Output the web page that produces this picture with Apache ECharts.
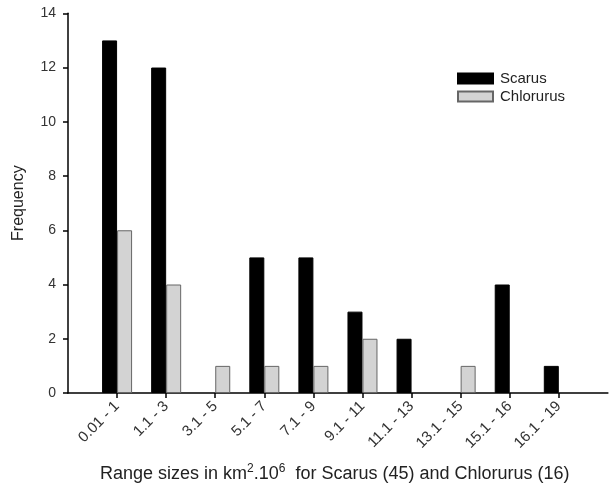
<!DOCTYPE html>
<html>
<head>
<meta charset="utf-8">
<script src="https://cdn.jsdelivr.net/npm/echarts@6/dist/echarts.min.js"></script>
<style>html,body{margin:0;padding:0;background:#fff}#c{width:610px;height:487px}</style>
</head>
<body>
<div id="c"></div>
<script>
const categories = ["0.01 - 1", "1.1 - 3", "3.1 - 5", "5.1 - 7", "7.1 - 9", "9.1 - 11", "11.1 - 13", "13.1 - 15", "15.1 - 16", "16.1 - 19"];
const scarus = [13, 12, 0, 5, 5, 3, 2, 0, 4, 1];
const chlorurus = [6, 4, 1, 1, 1, 2, 0, 1, 0, 0];
const yTicks = [0, 2, 4, 6, 8, 10, 12, 14];

const cats = [""].concat(categories, [""]);
const pad = arr => [null].concat(arr.map(v => v === 0 ? null : v), [null]);
const font = "Liberation Sans, Arial, sans-serif";

const chart = echarts.init(document.getElementById("c"));
chart.setOption({
  animation: false,
  backgroundColor: "#fff",
  textStyle: { fontFamily: font },
  grid: { left: 68, right: -2, top: 13.3, bottom: 94 },
  legend: {
    orient: "vertical",
    left: 452, top: 66,
    icon: "rect",
    itemWidth: 35, itemHeight: 10, itemGap: 3,
    textStyle: { fontSize: 15, color: "#222", fontFamily: font, padding: [0, 0, 0, 2] },
    data: ["Scarus", "Chlorurus"]
  },
  xAxis: {
    type: "category",
    data: cats,
    boundaryGap: false,
    axisLine: { lineStyle: { color: "#000", width: 1.5 } },
    axisTick: { length: 5, lineStyle: { color: "#000", width: 1.5 }, interval: (i) => i > 0 && i < cats.length - 1 },
    axisLabel: { rotate: 45, fontSize: 15, color: "#333", margin: 11, interval: 0, fontFamily: font },
    splitLine: { show: false }
  },
  yAxis: {
    type: "value",
    min: yTicks[0], max: yTicks[yTicks.length - 1], interval: 2,
    name: "Frequency",
    nameLocation: "middle",
    nameGap: 41,
    nameTextStyle: { fontSize: 16, color: "#222", fontFamily: font },
    axisLine: { show: true, lineStyle: { color: "#000", width: 1.5 } },
    axisTick: { show: true, length: 5, lineStyle: { color: "#000", width: 1.5 } },
    axisLabel: { fontSize: 14, color: "#333", margin: 12, fontFamily: font },
    splitLine: { show: false }
  },
  series: [
    {
      name: "Scarus", type: "bar", data: pad(scarus),
      barWidth: 15, barGap: "0%",
      itemStyle: { color: "#000", borderColor: "#000", borderWidth: 1 }
    },
    {
      name: "Chlorurus", type: "bar", data: pad(chlorurus),
      barWidth: 15, barGap: "0%",
      itemStyle: { color: "#d3d3d3", borderColor: "#666", borderWidth: 1 }
    }
  ],
  graphic: [{
    type: "text",
    left: 100,
    top: 463,
    style: {
      text: "{n|Range sizes in km}{s|2}{n|.10}{s|6}{n|  for Scarus (45) and Chlorurus (16)}",
      rich: {
        n: { fontSize: 18, fill: "#222", fontFamily: font, verticalAlign: "middle", lineHeight: 22 },
        s: { fontSize: 12, fill: "#222", fontFamily: font, verticalAlign: "top", lineHeight: 12 }
      }
    }
  }]
});
</script>
</body>
</html>
